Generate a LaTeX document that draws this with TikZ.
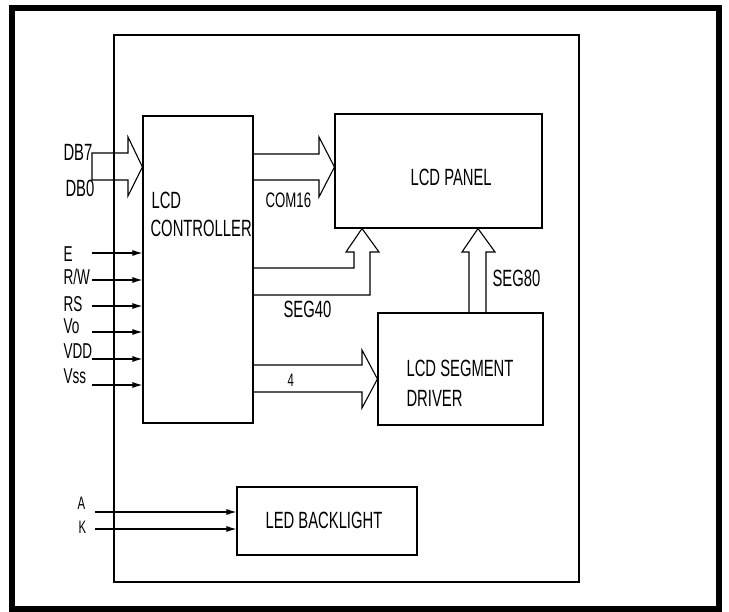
\documentclass[tikz,border=0pt]{standalone}
\usepackage{fontspec}
\usepackage{tikz}
\usetikzlibrary{arrows.meta}
\newfontfamily\narrowsans[FakeStretch=0.63]{Liberation Sans}

\begin{document}
\begin{tikzpicture}[x=1pt,y=-1pt,line width=1.1pt,
	box/.style={draw,rectangle,inner sep=0},
	lbl/.style={font=\narrowsans\fontsize{23.5}{28}\selectfont,inner sep=0,anchor=base west},
	lblpin/.style={lbl,font=\narrowsans\fontsize{21.5}{24}\selectfont},
	lblsmall/.style={lbl,font=\narrowsans\fontsize{18}{20}\selectfont},
	inarrow/.style={-{Latex[length=10pt,width=6pt]}}]
			\useasboundingbox (0,0) rectangle (729,612);
			%Moldura
			\draw[line width=6pt] (12,8) rectangle (719,609);
			\draw (114,35) rectangle (579,582);

			%Blocos
			\node[box, minimum width=110, minimum height=307] (ctrl) at (198,269.5) {};
			\node[box, minimum width=207, minimum height=114] (panel) at (438.5,171) {};
			\node[box, minimum width=165, minimum height=112] (driver) at (460.5,369) {};
			\node[box, minimum width=180, minimum height=68] (backlight) at (327,521) {};

			\node[lbl] (ctrltxt1) at (151,209) {LCD};
			\node[lbl] (ctrltxt2) at (150,237) {CONTROLLER};
			\node[lbl] (paneltxt) at (410,186) {LCD PANEL};
			\node[lbl] (drivertxt1) at (406,377) {LCD SEGMENT};
			\node[lbl] (drivertxt2) at (406,407) {DRIVER};
			\node[lbl] (backlighttxt) at (265,528) {LED BACKLIGHT};

			%Barramento de dados
			\draw (92,153) -- (128,153) -- (128,137) -- (ctrl.west |- 0,167) -- (128,196) -- (128,180) -- (92,180) -- cycle;
			\node[lbl] (db7) at (63,161) {DB7};
			\node[lbl] (db0) at (65,197) {DB0};

			%Sinais de controle
			\coordinate (inE) at (92,253);
			\coordinate (inRW) at (92,280);
			\coordinate (inRS) at (92,306);
			\coordinate (inVo) at (92,332);
			\coordinate (inVDD) at (92,359);
			\coordinate (inVss) at (92,385);
			\draw[inarrow] (inE) -- (inE -| ctrl.west);
			\draw[inarrow] (inRW) -- (inRW -| ctrl.west);
			\draw[inarrow] (inRS) -- (inRS -| ctrl.west);
			\draw[inarrow] (inVo) -- (inVo -| ctrl.west);
			\draw[inarrow] (inVDD) -- (inVDD -| ctrl.west);
			\draw[inarrow] (inVss) -- (inVss -| ctrl.west);
			\node[lblpin] (lE) at (63,262) {E};
			\node[lblpin] (lRW) at (63,285) {R/W};
			\node[lblpin] (lRS) at (63,312) {RS};
			\node[lblpin] (lVo) at (63,334) {Vo};
			\node[lblpin] (lVDD) at (63,359) {VDD};
			\node[lblpin] (lVss) at (63,384) {Vss};

			%COM16
			\draw (ctrl.east |- 0,154) -- (319,154) -- (319,137) -- (panel.west |- 0,167) -- (319,197) -- (319,180) -- (ctrl.east |- 0,180);
			\node[lbl,font=\narrowsans\fontsize{21}{24}\selectfont] (com16) at (265,208) {COM16};

			%SEG40
			\draw (ctrl.east |- 0,268) -- (354,268) -- (354,252) -- (346,252) -- (panel.south -| 362,0) -- (379,252) -- (370,252) -- (370,295) -- (ctrl.east |- 0,295);
			\node[lbl] (seg40) at (283,318) {SEG40};

			%SEG80
			\draw (driver.north -| 469,0) -- (469,252) -- (462,252) -- (panel.south -| 478,0) -- (495,252) -- (486,252) -- (driver.north -| 486,0);
			\node[lbl] (seg80) at (492,287) {SEG80};

			%4 bits
			\draw (ctrl.east |- 0,365) -- (362,365) -- (362,350) -- (driver.west |- 0,379) -- (362,408) -- (362,392) -- (ctrl.east |- 0,392);
			\node[lblsmall] (four) at (287,387) {4};

			%Backlight
			\coordinate (inA) at (95,512);
			\coordinate (inK) at (95,529);
			\draw[inarrow] (inA) -- (inA -| backlight.west);
			\draw[inarrow] (inK) -- (inK -| backlight.west);
			\node[lblsmall] (lA) at (77,509) {A};
			\node[lblsmall] (lK) at (78,533) {K};
\end{tikzpicture}
\end{document}
